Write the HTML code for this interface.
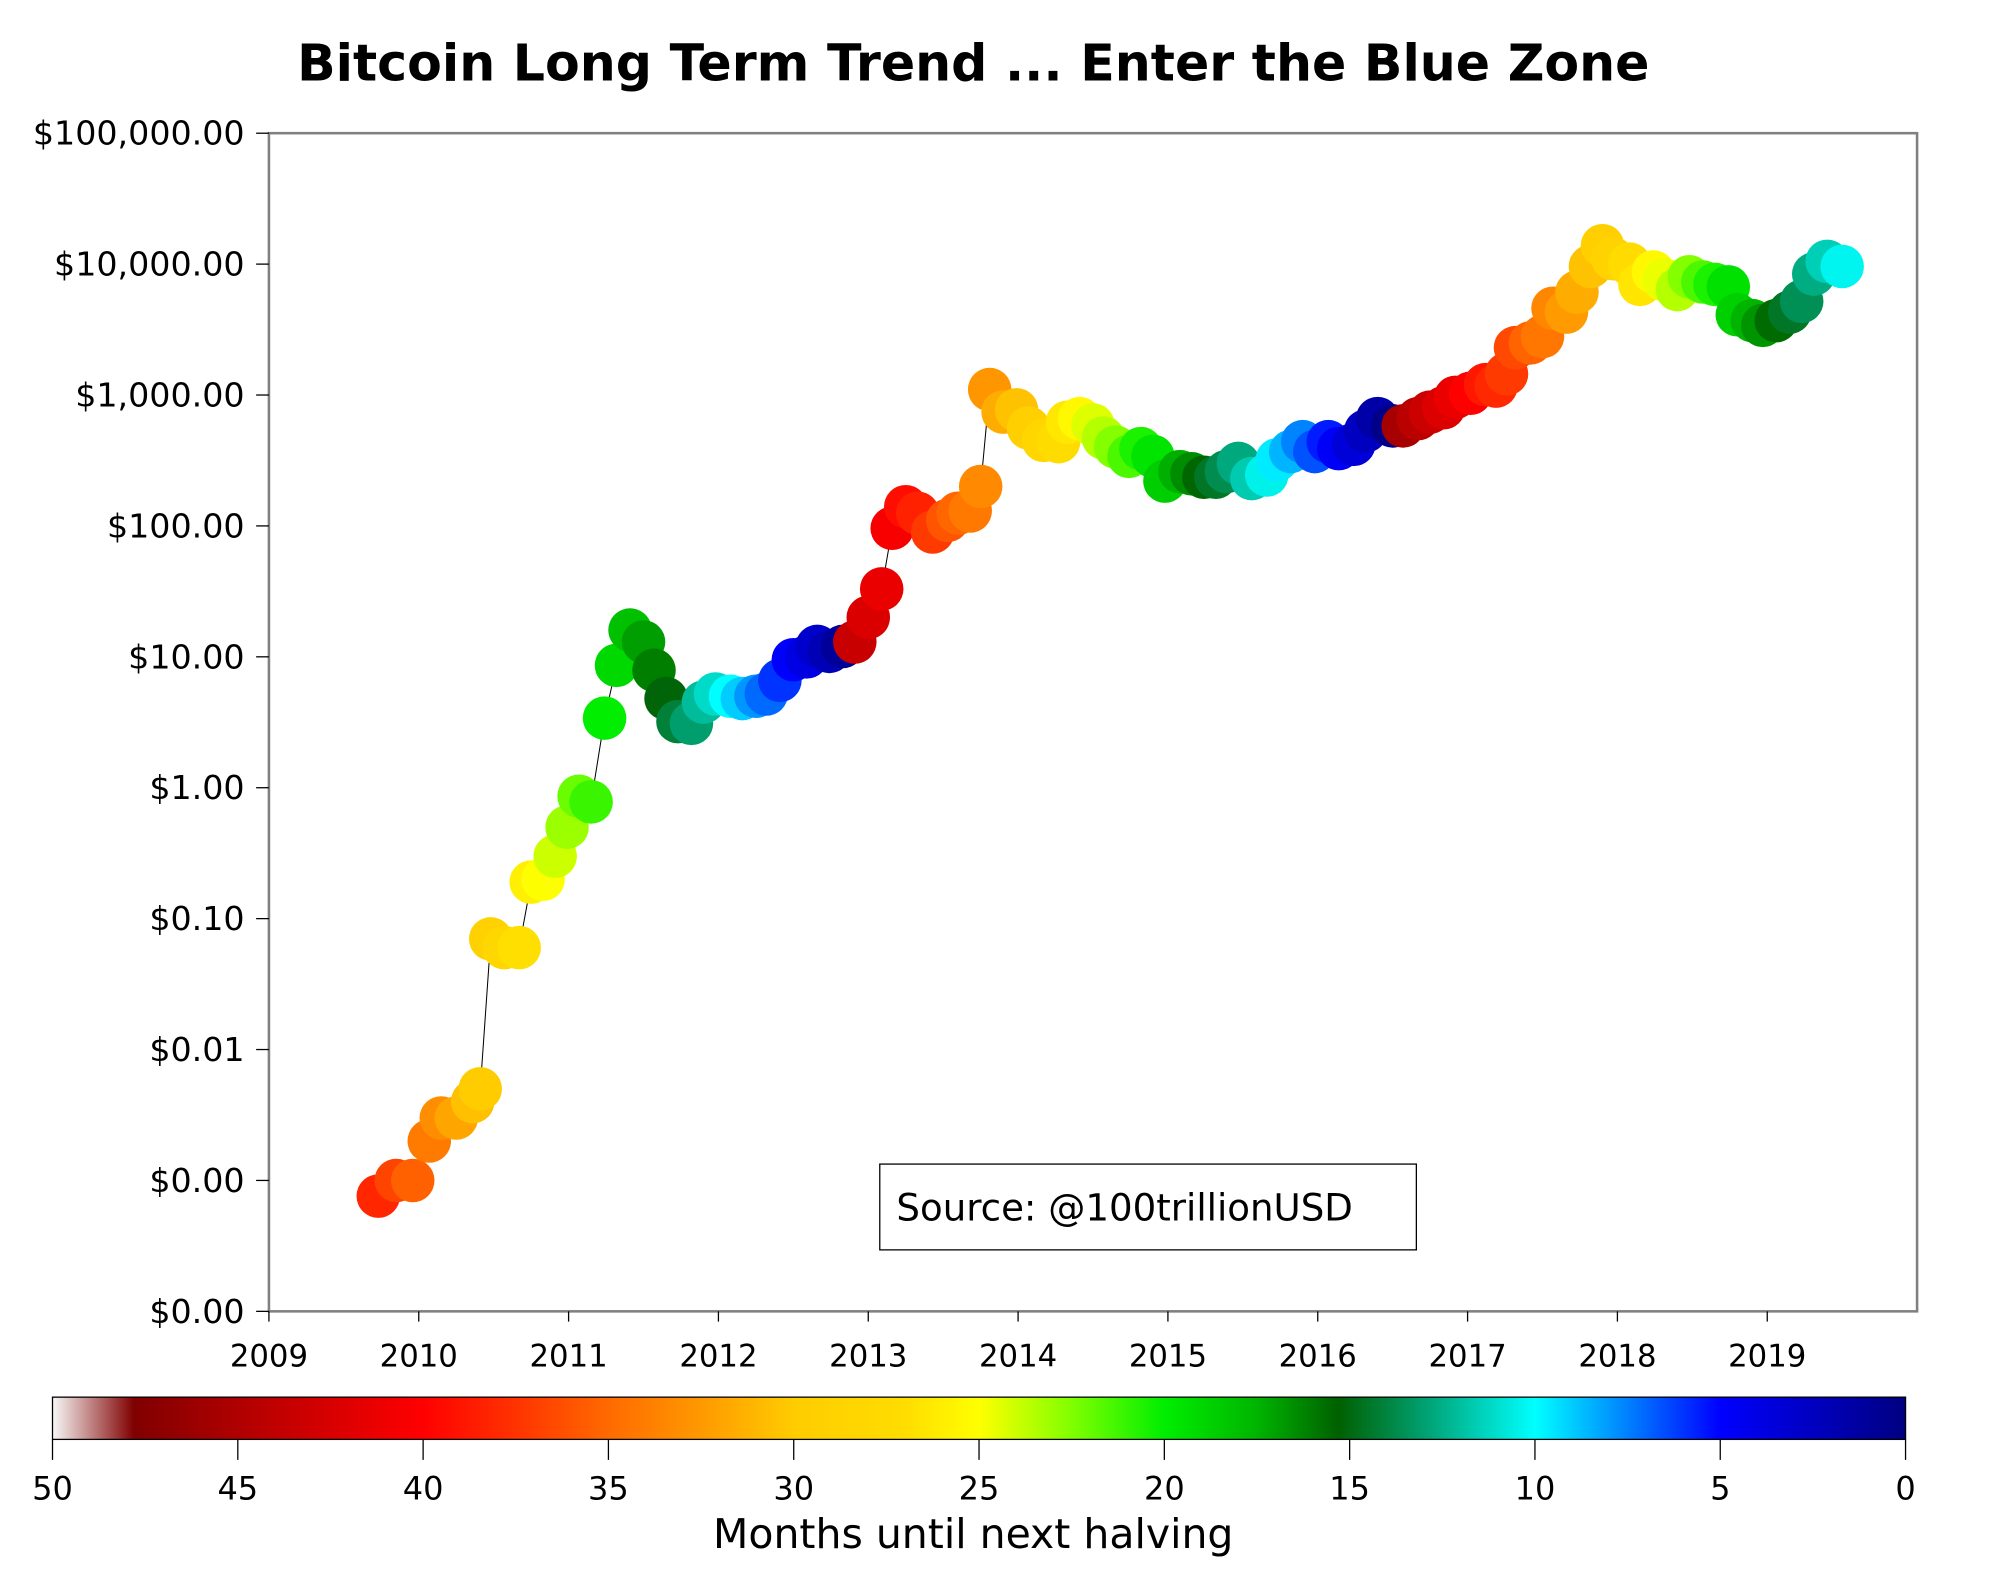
<!DOCTYPE html>
<html><head><meta charset="utf-8"><style>
html,body{margin:0;padding:0;background:#fff;}
svg{display:block;font-family:"DejaVu Sans","Liberation Sans",sans-serif;}
</style></head><body>
<svg id="chart" width="2008" height="1595" viewBox="0 0 1568 1245.5" xmlns="http://www.w3.org/2000/svg">
<defs>
<linearGradient id="cmap" x1="0" y1="0" x2="1" y2="0"></linearGradient>
</defs>
<text x="760" y="63" text-anchor="middle" font-size="39.5" font-weight="bold">Bitcoin Long Term Trend ... Enter the Blue Zone</text>
<rect x="210" y="104" width="1287" height="920" fill="#fff" stroke="#808080" stroke-width="2"/>
<g id="yaxis"></g>
<g id="xaxis"></g>
<polyline id="trend" fill="none" stroke="#000" stroke-width="0.8"/>
<g id="marks"></g>
<g>
<rect x="687" y="909" width="419" height="67" fill="#fff" stroke="#000" stroke-width="1"/>
<text x="700" y="953" font-size="29">Source: @100trillionUSD</text>
</g>
<rect x="41" y="1091" width="1447" height="33" fill="url(#cmap)" stroke="#000" stroke-width="1"/>
<g id="cbaxis"></g>
<text x="760" y="1209" text-anchor="middle" font-size="32">Months until next halving</text>
</svg>
<script>
const dates=[2009.73,2009.85,2009.96,2010.07,2010.15,2010.25,2010.36,2010.41,2010.48,2010.57,2010.67,2010.75,2010.83,2010.91,2010.99,2011.07,2011.15,2011.24,2011.32,2011.41,2011.5,2011.57,2011.65,2011.73,2011.82,2011.9,2011.98,2012.08,2012.16,2012.25,2012.32,2012.41,2012.5,2012.59,2012.66,2012.74,2012.83,2012.91,2013.0,2013.09,2013.16,2013.25,2013.33,2013.43,2013.53,2013.6,2013.68,2013.75,2013.81,2013.9,2013.99,2014.07,2014.17,2014.27,2014.33,2014.41,2014.5,2014.57,2014.65,2014.74,2014.82,2014.9,2014.98,2015.08,2015.16,2015.24,2015.32,2015.39,2015.47,2015.56,2015.66,2015.73,2015.82,2015.9,2015.98,2016.07,2016.14,2016.24,2016.32,2016.4,2016.5,2016.57,2016.67,2016.75,2016.84,2016.92,2017.02,2017.12,2017.19,2017.26,2017.32,2017.42,2017.5,2017.57,2017.66,2017.73,2017.82,2017.9,2017.97,2018.08,2018.15,2018.24,2018.31,2018.4,2018.48,2018.57,2018.65,2018.74,2018.8,2018.9,2018.97,2019.06,2019.15,2019.23,2019.31,2019.4,2019.5];
const prices=[0.00076,0.001,0.001,0.002,0.003,0.003,0.004,0.005,0.07,0.06,0.06,0.19,0.2,0.3,0.5,0.86,0.78,3.4,8.6,16,13,7.9,4.8,3.2,3.1,4.5,5.2,5,4.8,5,5.2,6.6,9.5,10,12,11,12,13,20,33,96,140,125,90,110,125,130,200,1100,740,770,560,450,440,620,660,590,470,400,340,390,340,220,260,250,235,235,260,300,230,245,320,370,440,370,440,390,420,530,660,580,580,660,740,800,960,1030,1200,1170,1450,2300,2500,2800,4600,4300,6100,9600,13800,11000,10000,7000,8700,7600,6400,8000,7300,7000,6700,4100,3700,3400,3700,4300,5200,8400,10500,9600];
const halvings=[2012.91,2016.53,2020.36];
const yTickLabels=["$0.00","$0.00","$0.01","$0.10","$1.00","$10.00","$100.00","$1,000.00","$10,000.00","$100,000.00"];
const yTickExp=[-4,-3,-2,-1,0,1,2,3,4,5];
const xTicks=[2009,2010,2011,2012,2013,2014,2015,2016,2017,2018,2019];
const cbTicks=[50,45,40,35,30,25,20,15,10,5,0];
const cmStops=[[50,"#f8f8f8"],[47.8,"#800000"],[44,"#c00000"],[40,"#ff0000"],[37.5,"#ff3300"],[35,"#ff6a00"],[32.5,"#ff9900"],[30,"#ffcc00"],[27,"#ffdd00"],[25,"#ffff00"],[22.5,"#80ff00"],[20,"#00ee00"],[17.5,"#00b400"],[15.3,"#006000"],[13,"#00a070"],[10,"#00ffff"],[7.5,"#0080ff"],[5,"#0000ff"],[2.5,"#0000c0"],[0,"#000080"]];
const NS="http://www.w3.org/2000/svg";
const X=d=>210+(d-2009)*117;
const Y=p=>1024-(Math.log10(p)+4)*102.22;
const CX=m=>41+(50-m)/50*1447;
function mk(t,a,p){const e=document.createElementNS(NS,t);for(const k in a)e.setAttribute(k,a[k]);p.appendChild(e);return e;}
function hex(c){return [1,3,5].map(i=>parseInt(c.substr(i,2),16));}
function colorFor(m){m=Math.max(0,Math.min(50,m));for(let i=0;i<cmStops.length-1;i++){const [m0,c0]=cmStops[i],[m1,c1]=cmStops[i+1];if(m<=m0&&m>=m1){const t=(m0-m)/(m0-m1);const a=hex(c0),b=hex(c1);return "rgb("+a.map((v,j)=>Math.round(v+(b[j]-v)*t)).join(",")+")";}}return cmStops[cmStops.length-1][1];}
function monthsUntil(d){for(const h of halvings){if(h>d)return (h-d)*12;}return 0;}
const g=document.getElementById('cmap');
cmStops.forEach(s=>{mk('stop',{offset:((50-s[0])/50).toFixed(4),'stop-color':s[1]},g);});
const ya=document.getElementById('yaxis');
yTickExp.forEach((e,i)=>{const y=1024-(e+4)*102.22;
const t=mk('line',{x1:200,x2:210,y1:y,y2:y,stroke:'#000','stroke-width':1},ya);


const l=mk('text',{x:191,y:y+9,'text-anchor':'end','font-size':26},ya);l.textContent=yTickLabels[i];

});
const xa=document.getElementById('xaxis');
xTicks.forEach(v=>{const x=X(v);
const t=mk('line',{x1:x,x2:x,y1:1024,y2:1032,stroke:'#000','stroke-width':1},xa);


const l=mk('text',{x:x,y:1067,'text-anchor':'middle','font-size':24},xa);l.textContent=String(v);

});
document.getElementById('trend').setAttribute('points',dates.map((d,i)=>X(d).toFixed(1)+","+Y(prices[i]).toFixed(1)).join(" "));
const mg=document.getElementById('marks');
dates.forEach((d,i)=>{const c=mk('circle',{cx:X(d).toFixed(1),cy:Y(prices[i]).toFixed(1),r:17,fill:colorFor(monthsUntil(d))},mg);

});
const ca=document.getElementById('cbaxis');
cbTicks.forEach(m=>{const x=CX(m);
const t=mk('line',{x1:x,x2:x,y1:1124,y2:1140,stroke:'#000','stroke-width':1},ca);


const l=mk('text',{x:x,y:1171,'text-anchor':'middle','font-size':25},ca);l.textContent=String(m);

});
</script>
</body></html>
